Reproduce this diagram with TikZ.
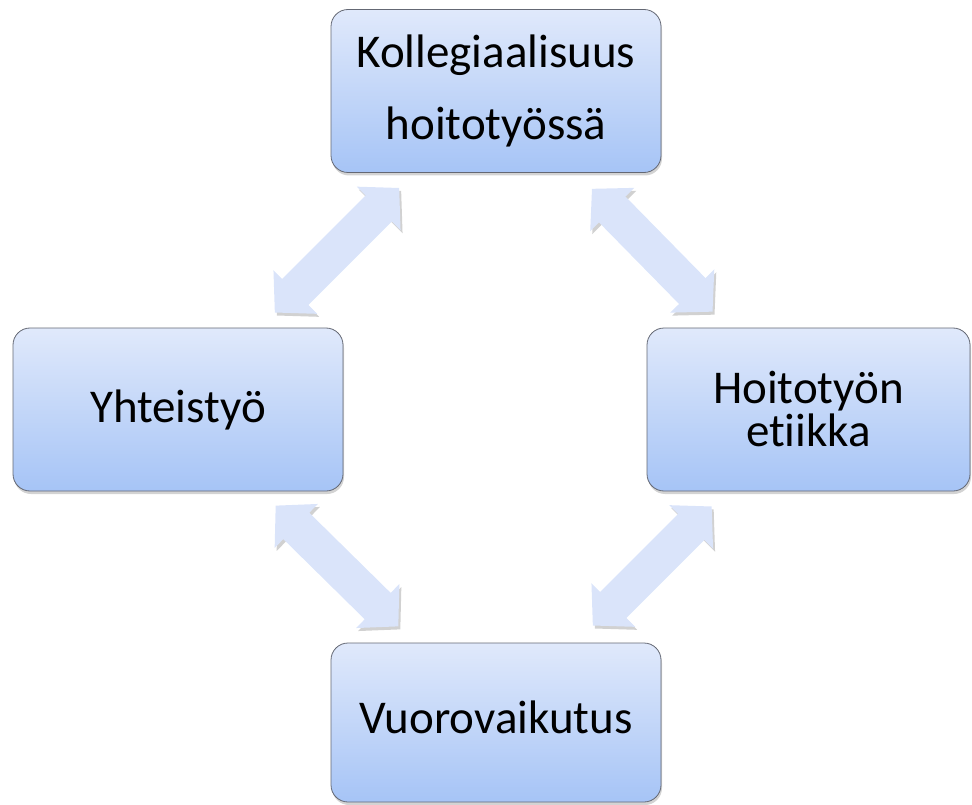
\documentclass[tikz,border=0pt]{standalone}
\usepackage{fontspec}
\setmainfont{Carlito}[Ligatures={NoCommon,NoRare,NoContextual}, Contextuals=NoAlternate]
\usetikzlibrary{positioning,shadows,arrows.meta}
\definecolor{boxtop}{RGB}{224,233,251}
\definecolor{boxbottom}{RGB}{166,196,246}
\definecolor{boxline}{RGB}{100,104,116}
\definecolor{arrowfill}{RGB}{218,228,250}
\tikzset{
    topic/.style={draw=boxline, thick, rounded corners=17pt,
        top color=boxtop, bottom color=boxbottom,
        minimum width=330pt, minimum height=163pt, inner sep=0pt,
        align=center, font=\fontsize{47}{56}\selectfont,
        drop shadow={shadow xshift=1pt, shadow yshift=-3pt, opacity=0.35}},
    twoway/.style={draw=arrowfill, line width=37pt,
        {Triangle[width=60pt,length=29pt]}-{Triangle[width=60pt,length=29pt]},
        shorten <=137pt, shorten >=137pt,
        preaction={draw=black!18, transform canvas={xshift=2pt,yshift=-3pt}}},
}
\begin{document}
\begin{tikzpicture}[x=1pt, y=1pt, on grid]
        \useasboundingbox (0,0) rectangle (972,-805);
        \node[topic, font=\fontsize{47}{72}\selectfont] (kol) at (496,-91) {Kollegiaalisuus\\hoitotyössä};
        \node[topic, below left=318.5pt and 318pt of kol] (yht) {Yhteistyö};
        \node[topic, minimum width=323pt, below right=318.5pt and 312.5pt of kol,
            font=\fontsize{47}{43}\selectfont] (eti) {Hoitotyön\\etiikka};
        \node[topic, minimum height=159pt, text depth=10pt, below=631.5pt of kol] (vuo) {Vuorovaikutus};
        \draw[twoway] (kol.center) -- (yht.center);
        \draw[twoway] (kol.center) -- (eti.center);
        \draw[twoway] (yht.center) -- (vuo.center);
        \draw[twoway] (eti.center) -- (vuo.center);
    \end{tikzpicture}
\end{document}
